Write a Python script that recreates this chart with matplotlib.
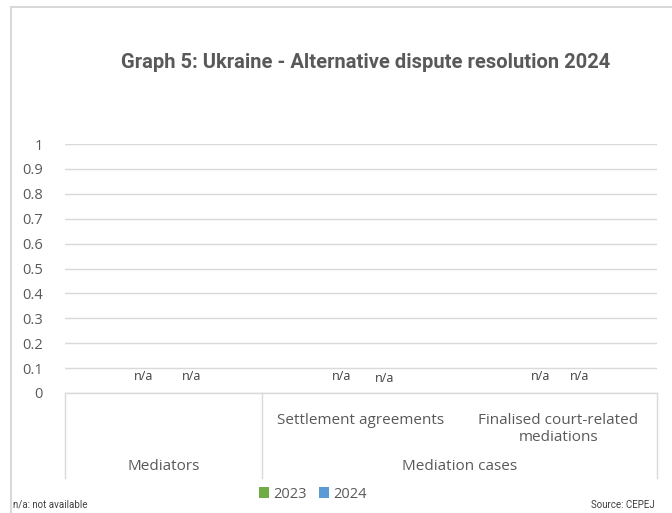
import numpy as np
import matplotlib
matplotlib.use("Agg")
import matplotlib.pyplot as plt
from matplotlib.lines import Line2D
from matplotlib.patches import Patch

title = "Graph 5: Ukraine - Alternative dispute resolution 2024"
subcategories = ["", "Settlement agreements", "Finalised court-related\nmediations"]
groups = ["Mediators", "Mediation cases"]
group_spans = [(0, 0), (1, 2)]
series_names = ["2023", "2024"]
values_2023 = [np.nan, np.nan, np.nan]
values_2024 = [np.nan, np.nan, np.nan]
labels_2023 = ["n/a", "n/a", "n/a"]
labels_2024 = ["n/a", "n/a", "n/a"]
yticks = [0, 0.1, 0.2, 0.3, 0.4, 0.5, 0.6, 0.7, 0.8, 0.9, 1]
ytick_labels = ["0", "0.1", "0.2", "0.3", "0.4", "0.5", "0.6", "0.7", "0.8", "0.9", "1"]
colors = ["#70AD47", "#5B9BD5"]

W, H = 672, 513
fig = plt.figure(figsize=(W / 100, H / 100), dpi=100)
fig.patch.set_facecolor("white")

def fx(px):
    return px / W

def fy(py):
    return 1 - py / H

# outer frame (left and top)
fig.add_artist(Line2D([fx(11), fx(11)], [fy(7), fy(513)], color="#D9D9D9", lw=1.5))
fig.add_artist(Line2D([fx(11), fx(672)], [fy(7), fy(7)], color="#D9D9D9", lw=1.5))

ax = fig.add_axes([fx(65), fy(393), fx(657) - fx(65), fy(144) - fy(393)])
ax.set_xlim(-0.5, 2.5)
ax.set_ylim(0, 1)
for s in ax.spines.values():
    s.set_visible(False)
ax.set_yticks(yticks)
ax.set_yticklabels(ytick_labels, fontsize=10.5, color="#595959", family="Open Sans")
ax.tick_params(axis="y", length=0, pad=16)
ax.set_xticks([])
ax.yaxis.grid(True, color="#D9D9D9", lw=1)
ax.set_axisbelow(True)

x = np.arange(len(subcategories))
bw = 0.22
offsets = [-0.11, 0.11]
ax.bar(x + offsets[0], values_2023, width=bw, color=colors[0])
ax.bar(x + offsets[1], values_2024, width=bw, color=colors[1])

label_offsets_2023 = [-0.10, -0.10, -0.09]
label_offsets_2024 = [0.14, 0.12, 0.11]
lift_2024 = [17, 15, 17]
for i in range(len(x)):
    ax.annotate(labels_2023[i], (x[i] + label_offsets_2023[i], 0), xytext=(0, 17),
                textcoords="offset pixels", ha="center", va="center",
                fontsize=9, color="#404040", family="Open Sans")
    ax.annotate(labels_2024[i], (x[i] + label_offsets_2024[i], 0), xytext=(0, lift_2024[i]),
                textcoords="offset pixels", ha="center", va="center",
                fontsize=9, color="#404040", family="Open Sans")

# category axis box
trans = ax.get_xaxis_transform()
line_kw = dict(color="#D9D9D9", lw=1, transform=trans, clip_on=False)
bottom = (fy(478) - fy(393)) / (fy(144) - fy(393))
ax.plot([-0.5, 2.5], [0, 0], **line_kw)
for xv in [-0.5, 0.5, 2.5]:
    ax.plot([xv, xv], [0, bottom], **line_kw)

sub_y = (fy(413) - fy(393)) / (fy(144) - fy(393))
for i, lab in enumerate(subcategories):
    if lab:
        ax.text(x[i], sub_y, lab, transform=trans, ha="center", va="top",
                fontsize=11, color="#595959", family="Open Sans", linespacing=1.15)
grp_y = (fy(467) - fy(393)) / (fy(144) - fy(393))
for g, (a, b) in zip(groups, group_spans):
    ax.text((a + b) / 2, grp_y, g, transform=trans, ha="center", va="center",
            fontsize=11, color="#595959", family="Open Sans")

fig.text(fx(366), fy(62), title, ha="center", va="center", fontsize=14.5,
         fontweight="bold", color="#595959", family="Roboto")

handles = [Patch(facecolor=c, edgecolor="none") for c in colors]
fig.legend(handles, series_names, loc="center", bbox_to_anchor=(fx(313), fy(494)),
           ncol=2, frameon=False, handlelength=0.7, handleheight=0.7,
           handletextpad=0.3, columnspacing=0.8, labelcolor="#595959",
           prop={"family": "Open Sans", "size": 10.5})

fig.text(fx(13), fy(505), "n/a: not available", ha="left", va="center",
         fontsize=7, color="#404040", family="Roboto")
fig.text(fx(655), fy(505), "Source: CEPEJ", ha="right", va="center",
         fontsize=7, color="#404040", family="Roboto")

fig.savefig("out.png", dpi=100)
